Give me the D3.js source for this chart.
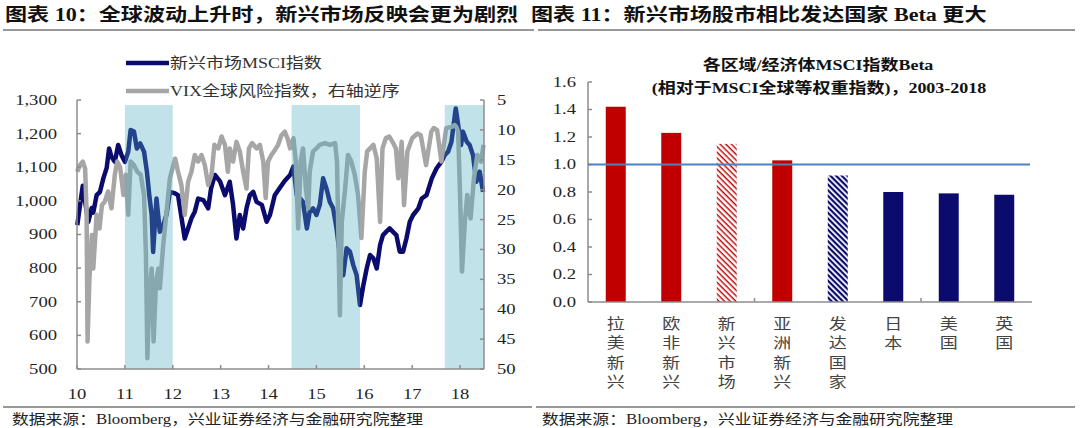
<!DOCTYPE html>
<html><head><meta charset="utf-8">
<script src="https://cdn.jsdelivr.net/npm/d3@7"></script>
<style>body{margin:0;background:#fff;} svg{display:block}</style>
</head><body><svg id="c" width="1080" height="428"></svg>
<script>
// ---------------- DATA ----------------
const leftTitle = "图表 10：全球波动上升时，新兴市场反映会更为剧烈";
const rightTitle = "图表 11：新兴市场股市相比发达国家 Beta 更大";
const sourceText = "数据来源：Bloomberg，兴业证券经济与金融研究院整理";
const legendLabels = ["新兴市场MSCI指数", "VIX全球风险指数，右轴逆序"];

const yearTicks = [2010, 2011, 2012, 2013, 2014, 2015, 2016, 2017, 2018];
const yearTickLabels = ["10", "11", "12", "13", "14", "15", "16", "17", "18"];
const leftTicks = [500, 600, 700, 800, 900, 1000, 1100, 1200, 1300];
const rightTicks = [5, 10, 15, 20, 25, 30, 35, 40, 45, 50];

const msciYears = [2010.006,2010.063,2010.12,2010.167,2010.236,2010.307,2010.34,2010.41,2010.48,2010.55,2010.62,2010.67,2010.72,2010.79,2010.86,2010.93,2011.00,2011.07,2011.12,2011.19,2011.25,2011.32,2011.40,2011.46,2011.51,2011.56,2011.59,2011.66,2011.73,2011.80,2011.87,2011.94,2012.05,2012.11,2012.25,2012.32,2012.39,2012.46,2012.53,2012.64,2012.74,2012.80,2012.88,2012.99,2013.09,2013.19,2013.26,2013.33,2013.40,2013.47,2013.54,2013.61,2013.68,2013.75,2013.86,2013.96,2014.03,2014.13,2014.24,2014.34,2014.45,2014.52,2014.59,2014.66,2014.72,2014.80,2014.86,2014.93,2015.00,2015.07,2015.14,2015.21,2015.28,2015.35,2015.42,2015.49,2015.56,2015.63,2015.70,2015.77,2015.84,2015.91,2015.98,2016.05,2016.12,2016.19,2016.26,2016.33,2016.39,2016.47,2016.53,2016.60,2016.67,2016.74,2016.81,2016.88,2016.95,2017.02,2017.13,2017.20,2017.30,2017.41,2017.51,2017.61,2017.68,2017.75,2017.82,2017.91,2017.96,2018.02,2018.06,2018.14,2018.20,2018.27,2018.34,2018.41,2018.48];
const msciValues = [928,987,1045,1000,938,979,965,1017,1027,1067,1098,1156,1131,1116,1166,1136,1116,1146,1211,1206,1156,1171,1146,1087,1017,958,848,1007,908,928,960,1027,1022,1017,888,918,948,968,1007,1002,978,1037,1077,1057,1017,1057,988,888,958,918,978,1017,1027,997,988,938,958,1017,1040,1060,1077,1102,1017,1007,997,918,968,978,958,988,1067,1037,997,978,918,839,779,859,849,809,779,690,749,799,839,829,799,869,898,910,918,908,898,849,849,888,938,958,978,1007,1017,1067,1097,1116,1136,1146,1176,1275,1226,1166,1206,1176,1166,1136,1057,1087,1027];

const vixYears = [2010.006,2010.06,2010.12,2010.17,2010.20,2010.22,2010.26,2010.31,2010.34,2010.38,2010.41,2010.47,2010.52,2010.58,2010.65,2010.72,2010.79,2010.84,2010.90,2010.97,2011.02,2011.07,2011.12,2011.19,2011.26,2011.33,2011.40,2011.44,2011.47,2011.51,2011.56,2011.60,2011.65,2011.70,2011.73,2011.80,2011.87,2011.94,2012.05,2012.11,2012.18,2012.25,2012.32,2012.39,2012.46,2012.53,2012.60,2012.67,2012.74,2012.81,2012.87,2012.95,2013.02,2013.09,2013.15,2013.19,2013.26,2013.33,2013.40,2013.47,2013.54,2013.59,2013.66,2013.75,2013.82,2013.89,2013.94,2013.99,2014.06,2014.13,2014.20,2014.27,2014.34,2014.40,2014.45,2014.52,2014.57,2014.62,2014.67,2014.72,2014.78,2014.83,2014.86,2014.93,2015.00,2015.07,2015.18,2015.28,2015.39,2015.43,2015.49,2015.53,2015.60,2015.66,2015.73,2015.80,2015.87,2015.94,2016.01,2016.06,2016.12,2016.19,2016.26,2016.33,2016.38,2016.45,2016.52,2016.59,2016.66,2016.71,2016.78,2016.83,2016.90,2017.00,2017.11,2017.18,2017.29,2017.40,2017.45,2017.52,2017.61,2017.71,2017.82,2017.89,2017.92,2017.96,2018.00,2018.04,2018.10,2018.15,2018.22,2018.29,2018.36,2018.44,2018.49];
const vixValues = [17.0,15.9,15.3,16.5,23.7,45.4,34.8,27.6,33.2,28.1,24.2,26.5,22.6,22.0,20.3,23.1,17.5,15.3,16.2,20.9,17.5,24.2,15.3,15.9,17.0,17.5,20.9,30.9,48.2,37.6,33.2,45.4,35.4,33.2,36.5,29.3,23.7,18.1,14.8,17.0,19.2,24.2,18.7,17.0,14.2,15.3,14.2,15.9,19.2,17.5,12.5,13.1,11.1,12.5,17.0,13.1,15.3,12.0,13.6,17.0,19.8,13.1,12.2,13.1,12.5,15.3,21.4,15.3,14.2,13.4,12.5,10.9,10.3,11.5,13.1,11.4,15.3,26.5,15.3,13.1,19.8,23.1,17.0,13.6,13.1,12.5,12.2,12.5,12.2,15.3,41.0,25.4,19.8,14.2,15.3,17.5,20.9,28.1,17.0,13.6,13.1,12.5,14.8,25.4,13.1,11.4,11.1,12.0,13.1,18.1,12.0,22.6,13.6,11.4,10.6,10.9,15.9,10.3,9.7,10.0,15.3,9.7,9.5,9.2,9.5,10.3,20.9,33.7,25.4,20.9,24.8,18.1,14.2,15.3,12.5,10.9,13.1];

const shadeStarts = [2011.0, 2014.48, 2017.68];
const shadeEnds = [2012.0, 2015.91, 2018.5];

const betaTitle1 = "各区域/经济体MSCI指数Beta";
const betaTitle2 = "(相对于MSCI全球等权重指数)，2003-2018";
const betaCategories = ["拉美新兴", "欧非新兴", "新兴市场", "亚洲新兴", "发达国家", "日本", "美国", "英国"];
const betaValues = [1.42, 1.23, 1.15, 1.03, 0.92, 0.80, 0.79, 0.78];
const betaTicks = [0, 0.2, 0.4, 0.6, 0.8, 1.0, 1.2, 1.4, 1.6];
const betaTickLabels = ["0.0", "0.2", "0.4", "0.6", "0.8", "1.0", "1.2", "1.4", "1.6"];
const betaReference = 1.0;

// ---------------- STYLE ----------------
const SX = 1.2;
const SERIF = "'Liberation Serif','Noto Sans CJK SC',serif";
const NAVY = "#0b0b6e", RED = "#c00000", GRAY = "#a6a6a6", AXIS = "#8c8c8c";
const barStyle = ["red", "red", "redHatch", "red", "navyHatch", "navy", "navy", "navy"];

const svg = d3.select("#c");
const defs = svg.append("defs");

function T(parent, x, y, s, o = {}) {
  return parent.append("text")
    .attr("transform", `translate(${x},${y}) scale(${SX},1)`)
    .attr("text-anchor", o.anchor || "start")
    .attr("dominant-baseline", "central")
    .style("font-family", o.family || SERIF)
    .style("font-size", (o.size || 15) + "px")
    .style("font-weight", o.weight || "normal")
    .style("fill", o.color || "#222")
    .text(s);
}

// patterns
function hatch(id, color, w, gap, bg) {
  const p = defs.append("pattern").attr("id", id).attr("patternUnits", "userSpaceOnUse")
    .attr("width", gap).attr("height", gap).attr("patternTransform", "rotate(45)");
  p.append("rect").attr("width", gap).attr("height", gap).attr("fill", bg);
  p.append("rect").attr("width", gap).attr("height", w).attr("fill", color);
}
hatch("redHatch", RED, 1.4, 4.0, "#fff");
hatch("navyHatch", NAVY, 2.2, 4.0, "#fff");

// ---------------- HEADERS ----------------
T(svg, 5, 15, leftTitle, { size: 18.4, weight: "bold", color: "#111" });
T(svg, 531, 15, rightTitle, { size: 18.4, weight: "bold", color: "#111" });
svg.append("line").attr("x1", 3).attr("x2", 534).attr("y1", 30).attr("y2", 30).attr("stroke", "#333").attr("stroke-width", 1.2);
svg.append("line").attr("x1", 538).attr("x2", 1075).attr("y1", 30).attr("y2", 30).attr("stroke", "#333").attr("stroke-width", 1.2);
svg.append("line").attr("x1", 3).attr("x2", 532).attr("y1", 407).attr("y2", 407).attr("stroke", "#333").attr("stroke-width", 1.2);
svg.append("line").attr("x1", 536).attr("x2", 1075).attr("y1", 407).attr("y2", 407).attr("stroke", "#333").attr("stroke-width", 1.2);
T(svg, 12, 419, sourceText, { size: 14, color: "#222" });
T(svg, 542, 419, sourceText, { size: 14, color: "#222" });

// ---------------- LEFT CHART ----------------
const xL = d3.scaleLinear().domain([2010, 2018.5]).range([77, 484]);
const yL = d3.scaleLinear().domain([500, 1300]).range([369, 100]);
const yR = d3.scaleLinear().domain([5, 50]).range([100, 369]);

const gL = svg.append("g");
const msci = d3.zip(msciYears, msciValues);
const vix = d3.zip(vixYears, vixValues);
gL.append("path").datum(msci)
  .attr("d", d3.line().x(d => xL(d[0])).y(d => yL(d[1])))
  .attr("fill", "none").attr("stroke", NAVY).attr("stroke-width", 4.5).attr("stroke-linejoin", "round");
gL.append("path").datum(vix)
  .attr("d", d3.line().x(d => xL(d[0])).y(d => yR(d[1])))
  .attr("fill", "none").attr("stroke", GRAY).attr("stroke-width", 4.5).attr("stroke-linejoin", "round");

gL.selectAll("rect.shade").data(d3.zip(shadeStarts, shadeEnds)).join("rect")
  .attr("x", d => xL(d[0])).attr("width", d => xL(d[1]) - xL(d[0]))
  .attr("y", yL(1285)).attr("height", yL(500) - yL(1285))
  .attr("fill", "rgb(81,172,195)").attr("fill-opacity", 0.35);

// axes
const ax = gL.append("g").attr("stroke", AXIS).attr("stroke-width", 1.5);
ax.append("line").attr("x1", xL(2010)).attr("x2", xL(2010)).attr("y1", yL(1300)).attr("y2", yL(500));
ax.append("line").attr("x1", xL(2018.5)).attr("x2", xL(2018.5)).attr("y1", yR(5)).attr("y2", yR(50));
ax.append("line").attr("x1", xL(2010)).attr("x2", xL(2018.5)).attr("y1", yL(500)).attr("y2", yL(500));
ax.selectAll("line.lt").data(leftTicks).join("line").attr("class", "lt")
  .attr("x1", xL(2010)).attr("x2", xL(2010) + 4).attr("y1", d => yL(d)).attr("y2", d => yL(d));
ax.selectAll("line.rt").data(rightTicks).join("line").attr("class", "rt")
  .attr("x1", xL(2018.5)).attr("x2", xL(2018.5) - 4).attr("y1", d => yR(d)).attr("y2", d => yR(d));
ax.selectAll("line.bt").data(yearTicks).join("line").attr("class", "bt")
  .attr("x1", d => xL(d)).attr("x2", d => xL(d)).attr("y1", yL(500)).attr("y2", yL(500) - 4);

leftTicks.forEach(v => T(gL, 57, yL(v), d3.format(",")(v), { anchor: "end", size: 15.5 }));
rightTicks.forEach(v => T(gL, 497, yR(v), String(v), { size: 15.5 }));
yearTicks.forEach((v, i) => T(gL, xL(v), 394, yearTickLabels[i], { anchor: "middle", size: 15.5 }));

// legend
const legColors = [NAVY, GRAY];
legendLabels.forEach((s, i) => {
  const y = 63 + i * 28;
  gL.append("line").attr("x1", 126).attr("x2", 169).attr("y1", y).attr("y2", y)
    .attr("stroke", legColors[i]).attr("stroke-width", 4.5);
  T(gL, 170, y, s, { size: 15, color: "#333" });
});

// ---------------- RIGHT CHART ----------------
const xB = d3.scaleBand().domain(betaCategories).range([588, 1032]).paddingInner(0.64).paddingOuter(0.32);
const yB = d3.scaleLinear().domain([0, 1.6]).range([302, 82]);
const gR = svg.append("g");

T(gR, 818, 65, betaTitle1, { anchor: "middle", size: 15, weight: "bold", color: "#111" });
T(gR, 819, 88, betaTitle2, { anchor: "middle", size: 15, weight: "bold", color: "#111" });

const fills = { red: RED, navy: NAVY, redHatch: "url(#redHatch)", navyHatch: "url(#navyHatch)" };
gR.selectAll("rect.bar").data(betaCategories).join("rect").attr("class", "bar")
  .attr("x", d => xB(d)).attr("width", xB.bandwidth())
  .attr("y", (d, i) => yB(betaValues[i])).attr("height", (d, i) => yB(0) - yB(betaValues[i]))
  .attr("fill", (d, i) => fills[barStyle[i]]);

const axR = gR.append("g").attr("stroke", AXIS).attr("stroke-width", 1.5);
axR.append("line").attr("x1", 588).attr("x2", 588).attr("y1", yB(1.6)).attr("y2", yB(0));
axR.append("line").attr("x1", 588).attr("x2", 1032).attr("y1", yB(0)).attr("y2", yB(0));
axR.selectAll("line.t").data(betaTicks).join("line").attr("class", "t")
  .attr("x1", 588).attr("x2", 592).attr("y1", d => yB(d)).attr("y2", d => yB(d));
const step = xB.step();
axR.selectAll("line.c").data(betaCategories.filter((d, i) => i > 0 && i % 3 === 0)).join("line").attr("class", "c")
  .attr("x1", d => xB(d) - step * 0.32).attr("x2", d => xB(d) - step * 0.32)
  .attr("y1", yB(0)).attr("y2", yB(0) - 4);

gR.append("line").attr("x1", 588).attr("x2", 1030).attr("y1", yB(betaReference)).attr("y2", yB(betaReference))
  .attr("stroke", "#4f81bd").attr("stroke-width", 2);

betaTicks.forEach((v, i) => T(gR, 576, yB(v), betaTickLabels[i], { anchor: "end", size: 15.5 }));
betaCategories.forEach(c => {
  Array.from(c).forEach((ch, j) => {
    T(gR, xB(c) + xB.bandwidth() / 2, 324 + j * 19.4, ch, { anchor: "middle", size: 15, color: "#444" });
  });
});
</script></body></html>
